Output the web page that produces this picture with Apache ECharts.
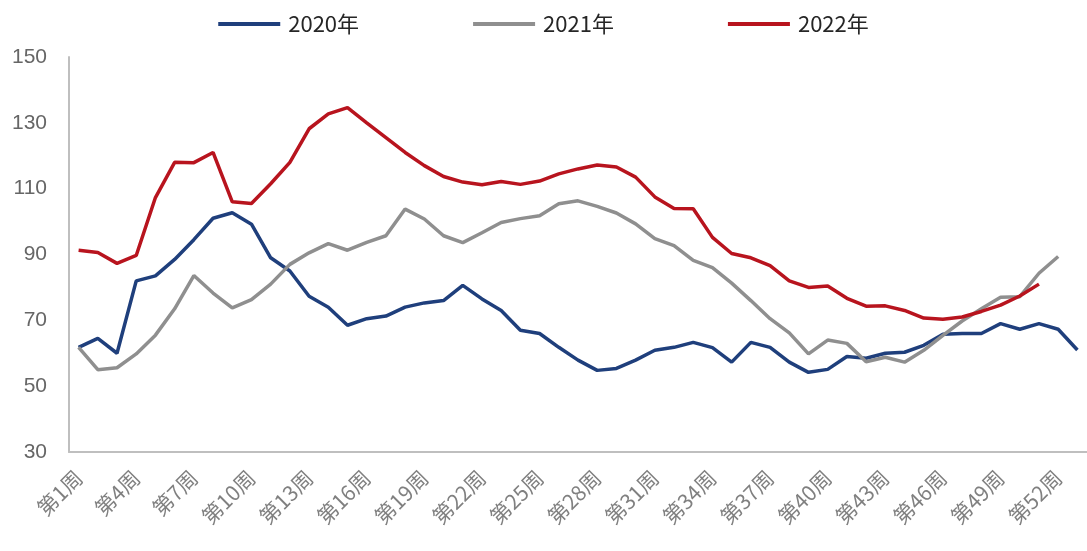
<!DOCTYPE html>
<html>
<head>
<meta charset="utf-8">
<script src="https://cdn.jsdelivr.net/npm/echarts@6/dist/echarts.min.js"></script>
<style>
html,body{margin:0;padding:0;background:#fff;}
#chart{width:1087px;height:551px;}
</style>
</head>
<body>
<div id="chart"></div>
<script>
const weeks = [];
for (let i = 1; i <= 53; i++) weeks.push('第' + i + '周');

const yTicks = [30, 50, 70, 90, 110, 130, 150];

const s2020 = [61.8, 64.5, 60, 82, 83.5, 88.5, 94.5, 101, 102.7, 99.2,
  89, 85, 77.3, 74, 68.5, 70.5, 71.3, 74, 75.3, 76,
  80.6, 76.5, 73, 67, 66, 61.8, 57.9, 54.8, 55.4, 57.9,
  60.9, 61.8, 63.3, 61.7, 57.3, 63.3, 61.8, 57.3, 54.2, 55.1,
  59, 58.5, 60, 60.3, 62.4, 65.8, 66, 66, 69, 67.3,
  69, 67.3, 61];

const s2021 = [61.8, 55, 55.6, 59.8, 65.5, 73.5, 83.6, 78.3, 73.8, 76.3,
  81, 87, 90.5, 93.3, 91.3, 93.7, 95.7, 103.8, 100.8, 95.7,
  93.6, 96.6, 99.7, 100.9, 101.8, 105.4, 106.3, 104.6, 102.6, 99.3,
  94.8, 92.7, 88.2, 86, 81.3, 76, 70.5, 66.2, 59.8, 64,
  63, 57.4, 58.8, 57.3, 60.9, 65.4, 69.8, 73.5, 77, 77.2,
  84.3, 89.4];

const s2022 = [91.3, 90.6, 87.3, 89.7, 107.3, 118, 117.9, 121, 106, 105.5,
  111.5, 118, 128.2, 132.7, 134.6, 130, 125.5, 121, 117, 113.7,
  112, 111.2, 112.2, 111.3, 112.3, 114.5, 116, 117.2, 116.6, 113.5,
  107.5, 104, 103.9, 95.2, 90.3, 89, 86.6, 82, 80, 80.4,
  76.7, 74.3, 74.4, 73, 70.7, 70.3, 71, 72.7, 74.6, 77.4,
  81];

const seriesNames = ['2020年', '2021年', '2022年'];
const colors = ['#1F3F7C', '#8F8F8F', '#B8141E'];

const chart = echarts.init(document.getElementById('chart'));
chart.setOption({
  animation: false,
  backgroundColor: '#ffffff',
  color: colors,
  legend: {
    top: 8,
    left: 'center',
    icon: 'rect',
    itemWidth: 62,
    itemHeight: 4,
    itemGap: 114,
    textStyle: {fontSize: 22, color: '#262626', padding: [0, 0, 0, 3], fontFamily: 'Noto Sans CJK SC, sans-serif'},
    data: seriesNames
  },
  grid: {left: 69, right: -9, top: 57, bottom: 99, containLabel: false},
  xAxis: {
    type: 'category',
    data: weeks,
    boundaryGap: true,
    axisLine: {lineStyle: {color: '#BFBFBF', width: 2}},
    axisTick: {show: false},
    axisLabel: {
      interval: 2,
      rotate: 45,
      margin: 22,
      fontSize: 21,
      color: '#808080',
      fontFamily: 'Noto Sans CJK SC, sans-serif'
    },
    splitLine: {show: false}
  },
  yAxis: {
    type: 'value',
    min: yTicks[0],
    max: yTicks[yTicks.length - 1],
    interval: 20,
    axisLine: {show: true, lineStyle: {color: '#BFBFBF', width: 2}},
    axisTick: {show: false},
    axisLabel: {fontSize: 21, color: '#666666', margin: 22, fontFamily: 'Liberation Sans, Arial, sans-serif'},
    splitLine: {show: false}
  },
  series: [
    {name: seriesNames[0], type: 'line', data: s2020, symbol: 'none', lineStyle: {width: 3.5, color: colors[0]}},
    {name: seriesNames[1], type: 'line', data: s2021, symbol: 'none', lineStyle: {width: 3.5, color: colors[1]}},
    {name: seriesNames[2], type: 'line', data: s2022, symbol: 'none', lineStyle: {width: 3.5, color: colors[2]}}
  ]
});
</script>
</body>
</html>
